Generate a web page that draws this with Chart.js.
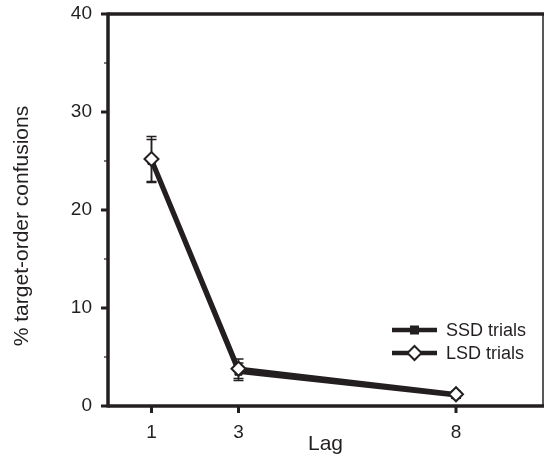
<!DOCTYPE html>
<html><head><meta charset="utf-8">
<script src="https://cdn.jsdelivr.net/npm/chart.js@4"></script>
<style>html,body{margin:0;padding:0;background:#fff}canvas{display:block}</style>
</head><body>
<canvas id="c" width="544" height="457"></canvas>
<script>
const lags = [1, 3, 8];
const ssd = [25.0, 3.5, 1.1];
const lsd = [25.2, 3.8, 1.2];
const ssdErr = [2.2, 0.9, 0.3];
const lsdErr = [2.3, 1.0, 0.3];
const yMajor = [0, 10, 20, 30, 40];
const yMinor = [5, 15, 25, 35];
const seriesNames = ['SSD trials', 'LSD trials'];
const xTitle = 'Lag';
const yTitle = '% target-order confusions';

const ink = '#231f20';
const FONT = "'Liberation Sans', Arial, sans-serif";

const frame = {
  id: 'frame',
  beforeDatasetsDraw(chart) {
    const {ctx, scales: {x, y}} = chart;
    ctx.save();
    ctx.strokeStyle = ink;
    chart.data.datasets.forEach(ds => {
      ds.err.forEach((e, i) => {
        const px = x.getPixelForValue(ds.data[i].x);
        const hi = y.getPixelForValue(ds.data[i].y + e);
        const lo = y.getPixelForValue(ds.data[i].y - e);
        ctx.lineWidth = 1.5;
        ctx.beginPath();
        ctx.moveTo(px, hi); ctx.lineTo(px, lo);
        ctx.moveTo(px - 5, hi); ctx.lineTo(px + 5, hi);
        ctx.moveTo(px - 5, lo); ctx.lineTo(px + 5, lo);
        ctx.stroke();
      });
    });
    ctx.restore();
  },
  afterDraw(chart) {
    const {ctx, chartArea: a, scales: {x, y}} = chart;
    ctx.save();
    ctx.strokeStyle = ink;
    ctx.lineCap = 'butt';
    ctx.lineWidth = 1.5;
    ctx.beginPath(); ctx.moveTo(a.right, a.top); ctx.lineTo(a.right, a.bottom); ctx.stroke();
    ctx.lineWidth = 3.5;
    ctx.beginPath(); ctx.moveTo(a.left, a.top - 1.5); ctx.lineTo(a.left, a.bottom + 1.5); ctx.stroke();
    ctx.beginPath(); ctx.moveTo(a.left, a.bottom); ctx.lineTo(chart.width, a.bottom); ctx.stroke();
    ctx.beginPath(); ctx.moveTo(a.left, a.top); ctx.lineTo(chart.width, a.top); ctx.stroke();
    yMajor.forEach(v => {
      const py = y.getPixelForValue(v);
      ctx.lineWidth = 3;
      ctx.beginPath(); ctx.moveTo(a.left - 7, py); ctx.lineTo(a.left, py); ctx.stroke();
    });
    yMinor.forEach(v => {
      const py = y.getPixelForValue(v);
      ctx.lineWidth = 1.2;
      ctx.beginPath(); ctx.moveTo(a.left - 4, py); ctx.lineTo(a.left, py); ctx.stroke();
    });
    lags.forEach(v => {
      const px = x.getPixelForValue(v);
      ctx.lineWidth = 3;
      ctx.beginPath(); ctx.moveTo(px, a.bottom); ctx.lineTo(px, a.bottom + 7); ctx.stroke();
    });
    // y-axis title
    ctx.fillStyle = ink;
    ctx.font = '21px ' + FONT;
    ctx.textAlign = 'center';
    ctx.textBaseline = 'middle';
    ctx.save();
    ctx.translate(22, 226);
    ctx.rotate(-Math.PI / 2);
    ctx.fillText(yTitle, 0, 0);
    ctx.restore();
    // legend
    const rows = [a.bottom - 76, a.bottom - 53];
    chart.data.datasets.forEach((ds, i) => {
      const ly = rows[i];
      const x0 = a.right - 151, x1 = a.right - 106, mx = (x0 + x1) / 2;
      ctx.lineWidth = 4.5;
      ctx.strokeStyle = ink;
      ctx.beginPath(); ctx.moveTo(x0, ly); ctx.lineTo(x1, ly); ctx.stroke();
      ctx.lineWidth = 2;
      if (i === 0) {
        ctx.fillStyle = ink;
        ctx.fillRect(mx - 4.5, ly - 4.5, 9, 9);
      } else {
        ctx.fillStyle = '#fff';
        ctx.beginPath();
        ctx.moveTo(mx, ly - 7); ctx.lineTo(mx + 7, ly); ctx.lineTo(mx, ly + 7); ctx.lineTo(mx - 7, ly); ctx.closePath();
        ctx.fill(); ctx.stroke();
      }
      ctx.fillStyle = ink;
      ctx.font = '18px ' + FONT;
      ctx.textBaseline = 'middle';
      ctx.textAlign = 'left';
      ctx.fillText(ds.label, a.right - 97, ly + 1);
    });
    ctx.restore();
  }
};

new Chart(document.getElementById('c'), {
  type: 'line',
  data: {
    datasets: [
      {
        label: seriesNames[0],
        data: lags.map((l, i) => ({x: l, y: ssd[i]})),
        err: ssdErr,
        borderColor: ink, backgroundColor: ink, borderWidth: 4.5,
        pointStyle: 'rect', pointRadius: 5, pointBorderWidth: 1,
        pointBackgroundColor: ink, pointBorderColor: ink,
        tension: 0, order: 2, clip: false
      },
      {
        label: seriesNames[1],
        data: lags.map((l, i) => ({x: l, y: lsd[i]})),
        err: lsdErr,
        borderColor: ink, backgroundColor: '#fff', borderWidth: 4.5,
        pointStyle: 'rectRot', pointRadius: 7, pointBorderWidth: 2,
        pointBackgroundColor: '#fff', pointBorderColor: ink,
        tension: 0, order: 1, clip: false
      }
    ]
  },
  options: {
    responsive: false,
    animation: false,
    events: [],
    layout: {autoPadding: false, padding: {top: 14, right: 1, left: 0, bottom: 0}},
    plugins: {legend: {display: false}, tooltip: {enabled: false}},
    scales: {
      x: {
        type: 'linear', min: 0, max: 10,
        afterBuildTicks: s => { s.ticks = lags.map(v => ({value: v})); },
        afterFit: s => { s.height = 51; s.paddingLeft = 0; s.paddingRight = 0; },
        grid: {display: false, drawTicks: false},
        border: {display: false},
        ticks: {color: ink, font: {family: FONT, size: 19}, padding: 15, maxRotation: 0, autoSkip: false},
        title: {display: true, text: xTitle, color: ink, font: {family: FONT, size: 21}, padding: {top: 0, bottom: 0}}
      },
      y: {
        type: 'linear', min: 0, max: 40,
        afterBuildTicks: s => { s.ticks = yMajor.map(v => ({value: v})); },
        afterFit: s => { s.width = 108; s.paddingTop = 0; s.paddingBottom = 0; },
        grid: {display: false, drawTicks: false},
        border: {display: false},
        ticks: {color: ink, font: {family: FONT, size: 19}, padding: 16},
        title: {display: false}
      }
    }
  },
  plugins: [frame]
});
</script>
</body></html>
